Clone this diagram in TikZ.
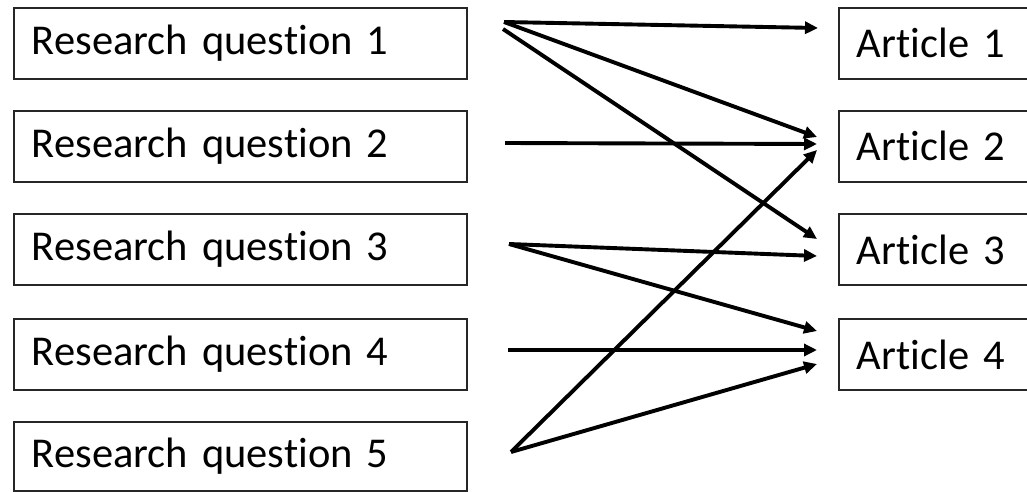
\documentclass[tikz,border=0pt]{standalone}
\usepackage{fontspec}
\setmainfont[Ligatures=CommonOff]{Carlito}
\usetikzlibrary{arrows.meta}
\tikzset{
  box/.style={draw=black!85, line width=1.8pt, anchor=north west, inner xsep=18pt, inner ysep=0pt,
    minimum height=71pt, align=left, font=\fontsize{42.5}{46}\selectfont},
  qbox/.style={box, text width=417pt},
  abox/.style={box, text width=170pt},
  link/.style={line width=3.9pt, -{Triangle[length=13pt,width=12pt]}}
}
\begin{document}
\begin{tikzpicture}[x=1pt,y=-1pt]
\useasboundingbox (0,0) rectangle (1027,492);
\node[qbox] (q1) at (13,7) {Research question 1};
\node[qbox] (q2) at (13,110) {Research question 2};
\node[qbox] (q3) at (13,213) {Research question 3};
\node[qbox] (q4) at (13,318) {Research question 4};
\node[qbox, minimum height=69pt] (q5) at (13,421) {Research question 5};
\node[abox] (a1) at (838,7) {Article 1};
\node[abox] (a2) at (838,110) {Article 2};
\node[abox] (a3) at (838,213) {Article 3};
\node[abox] (a4) at (838,318) {Article 4};
% start and end points
\coordinate (s1a) at (504,22);
\coordinate (s1b) at (503,29);
\coordinate (s2) at (505,143);
\coordinate (s3) at (509,244);
\coordinate (s4) at (508,350);
\coordinate (s5) at (511,452);
\coordinate (e1) at (818,28);
\coordinate (e2a) at (817,137);
\coordinate (e2b) at (817,144);
\coordinate (e2c) at (817,150);
\coordinate (e3a) at (817,239);
\coordinate (e3b) at (817,256);
\coordinate (e4a) at (817,331);
\coordinate (e4b) at (817,350);
\coordinate (e4c) at (817,364);
\draw[link] (s1a) -- (e1);
\draw[link] (s1a) -- (e2a);
\draw[link] (s1b) -- (e3a);
\draw[link] (s2) -- (e2b);
\draw[link] (s3) -- (e3b);
\draw[link] (s3) -- (e4a);
\draw[link] (s4) -- (e4b);
\draw[link] (s5) -- (e2c);
\draw[link] (s5) -- (e4c);
\end{tikzpicture}
\end{document}
